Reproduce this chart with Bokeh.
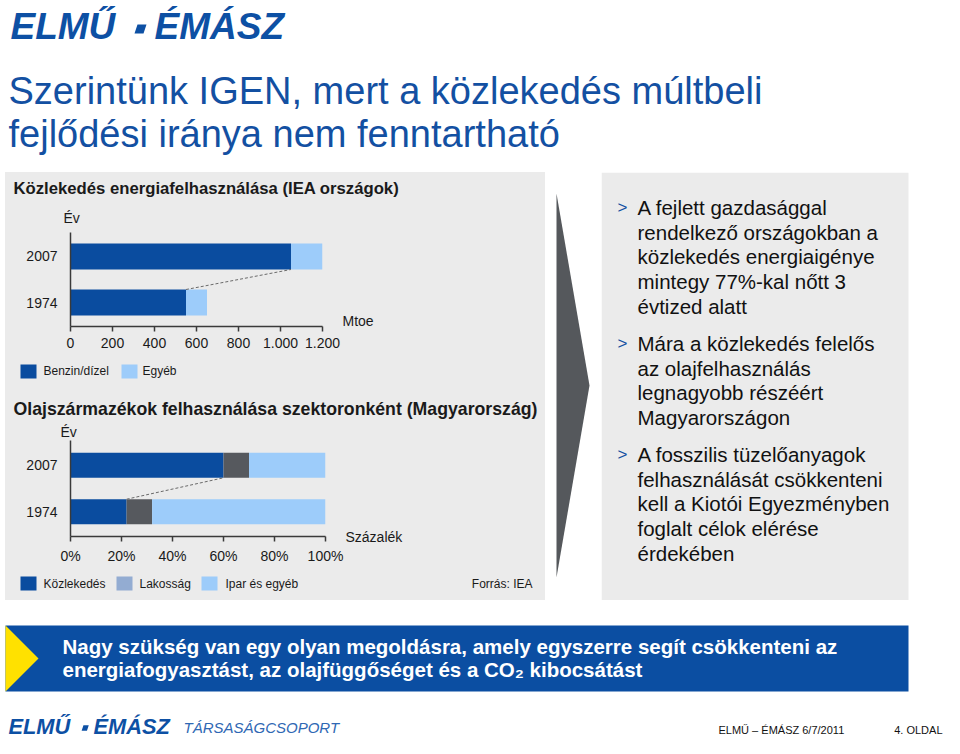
from bokeh.plotting import figure
from bokeh.layouts import column, row
from bokeh.models import Range1d, FactorRange, FixedTicker, ColumnDataSource
from bokeh.core.properties import value
from bokeh.transform import dodge
from bokeh.embed import file_html
from bokeh.resources import INLINE

FONT = "Liberation Sans"
GRAY = "#ebebeb"
LOGO_BLUE = "#0d50a4"
TITLE_BLUE = "#1350a2"
DARK_BLUE = "#0a4c9f"
LIGHT_BLUE = "#9dccfa"
DARK_GRAY = "#56595e"
LEG_GRAY = "#93acd2"
TEXT = "#1a1a1a"
AXIS = "#3a3a3a"

# ---------------- data ----------------
years = ["1974", "2007"]

# Chart 1: Közlekedés energiafelhasználása (IEA országok), Mtoe
energy_series = ["Benzin/dízel", "Egyéb"]
benzin_dizel = [550, 1050]
egyeb = [100, 150]
mtoe_ticks = [0, 200, 400, 600, 800, 1000, 1200]
mtoe_tick_labels = ["0", "200", "400", "600", "800", "1.000", "1.200"]

# Chart 2: Olajszármazékok felhasználása szektoronként (Magyarország), %
oil_series = ["Közlekedés", "Lakosság", "Ipar és egyéb"]
kozlekedes = [22, 60]
lakossag = [10, 10]
ipar_egyeb = [68, 30]
pct_ticks = [0, 20, 40, 60, 80, 100]
pct_tick_labels = ["0%", "20%", "40%", "60%", "80%", "100%"]

title_lines = ["Szerintünk IGEN, mert a közlekedés múltbeli",
               "fejlődési iránya nem fenntartható"]
chart1_title = "Közlekedés energiafelhasználása (IEA országok)"
chart2_title = "Olajszármazékok felhasználása szektoronként (Magyarország)"
bullets = [
    ["A fejlett gazdasággal", "rendelkező országokban a", "közlekedés energiaigénye",
     "mintegy 77%-kal nőtt 3", "évtized alatt"],
    ["Mára a közlekedés felelős", "az olajfelhasználás", "legnagyobb részéért",
     "Magyarországon"],
    ["A fosszilis tüzelőanyagok", "felhasználását csökkenteni",
     "kell a Kiotói Egyezményben", "foglalt célok elérése", "érdekében"],
]
box_lines = ["Nagy szükség van egy olyan megoldásra, amely egyszerre segít csökkenteni az",
             "energiafogyasztást, az olajfüggőséget és a CO₂ kibocsátást"]


# ---------------- helpers ----------------
def canvas(w, h, bg="white"):
    p = figure(width=w, height=h, x_range=Range1d(0, w), y_range=Range1d(h, 0),
               x_axis_type=None, y_axis_type=None, output_backend="svg",
               toolbar_location=None, min_border=0, min_border_left=0,
               min_border_right=0, min_border_top=0, min_border_bottom=0,
               outline_line_color=None, background_fill_color=bg,
               border_fill_color=bg)
    return p


def txt(p, x, y, s, size, color=TEXT, style="normal", align="left",
        baseline="middle", font=FONT):
    p.text(x=[x], y=[y], text=[s], text_font=value(font),
           text_font_size=value(size), text_font_style=value(style),
           text_color=color, text_align=value(align),
           text_baseline=value(baseline))


def swatch(p, x0, x1, y0, y1, color):
    p.quad(left=[x0], right=[x1], top=[y0], bottom=[y1], fill_color=color,
           line_color=None)


def logo(p, x, cy, scale):
    size = "%.1fpx" % (37 * scale)
    txt(p, x, cy, "ELMŰ", size, LOGO_BLUE, "bold italic")
    sx = [x + 127 * scale, x + 136 * scale, x + 133 * scale, x + 124 * scale]
    sy = [cy - 2 * scale, cy - 2 * scale, cy + 7 * scale, cy + 7 * scale]
    p.patch(sx, sy, fill_color=LOGO_BLUE, line_color=None)
    txt(p, x + 144 * scale, cy, "ÉMÁSZ", size, LOGO_BLUE, "bold italic")


def style_axes(p, ticks, labels):
    p.xgrid.visible = False
    p.ygrid.visible = False
    for ax in (p.xaxis, p.yaxis):
        ax.axis_line_color = AXIS
        ax.axis_line_width = 1.5
        ax.minor_tick_line_color = None
        ax.major_label_text_font = FONT
        ax.major_label_text_font_size = "14px"
        ax.major_label_text_color = TEXT
    p.xaxis.ticker = FixedTicker(ticks=ticks)
    p.xaxis.major_label_overrides = dict(zip(ticks, labels))
    p.xaxis.major_tick_in = 0
    p.xaxis.major_tick_out = 5
    p.xaxis.major_tick_line_color = AXIS
    p.xaxis.major_tick_line_width = 1.5
    p.xaxis.major_label_standoff = 6
    p.yaxis.major_tick_line_color = None
    p.yaxis.major_tick_in = 0
    p.yaxis.major_tick_out = 0
    p.yaxis.major_label_standoff = 13


gray_bg = {"background-color": GRAY}

# ---------------- header ----------------
hdr = canvas(944, 172)
logo(hdr, 10, 26, 1.0)
txt(hdr, 8, 90, title_lines[0], "38px", TITLE_BLUE)
txt(hdr, 8, 133, title_lines[1], "38px", TITLE_BLUE)

# ---------------- chart 1 ----------------
t1 = canvas(540, 60, GRAY)
txt(t1, 8, 16, chart1_title, "16.7px", TEXT, "bold")
txt(t1, 58, 45, "Év", "14px")

bh1 = 0.565
c1 = figure(width=337, height=126, x_range=Range1d(0, 1200),
            y_range=FactorRange(factors=years, range_padding=0.02),
            output_backend="svg", toolbar_location=None,
            min_border_left=65, min_border_right=20, min_border_top=0,
            min_border_bottom=32, outline_line_color=None,
            background_fill_color=GRAY, border_fill_color=GRAY)
src1 = ColumnDataSource(dict(year=years, benzin=benzin_dizel, egyeb=egyeb))
c1.hbar_stack(["benzin", "egyeb"], y="year", height=bh1,
              color=[DARK_BLUE, LIGHT_BLUE], line_color=None, source=src1)
con1 = ColumnDataSource(dict(x0=[benzin_dizel[0]], y0=[years[0]],
                             x1=[benzin_dizel[1]], y1=[years[1]]))
c1.segment(x0="x0", x1="x1", y0=dodge("y0", bh1 / 2, range=c1.y_range),
           y1=dodge("y1", -bh1 / 2, range=c1.y_range), source=con1,
           line_color="#6a6a6a", line_width=1, line_dash="3 2")
style_axes(c1, mtoe_ticks, mtoe_tick_labels)

m1 = canvas(203, 126, GRAY)
txt(m1, 0, 88, "Mtoe", "14px")

l1 = canvas(540, 27, GRAY)
leg1_x = [(15, 31, 38), (116, 132, 137)]
for (a, b, tx), name, col in zip(leg1_x, energy_series, [DARK_BLUE, LIGHT_BLUE]):
    swatch(l1, a, b, 6, 20, col)
    txt(l1, tx, 12, name, "12px")

# ---------------- chart 2 ----------------
t2 = canvas(540, 55, GRAY)
txt(t2, 8, 23, chart2_title, "17.7px", TEXT, "bold")
txt(t2, 55, 46, "Év", "14px")

bh2 = 0.54
c2 = figure(width=340, height=126, x_range=Range1d(0, 100),
            y_range=FactorRange(factors=years, range_padding=0.032),
            output_backend="svg", toolbar_location=None,
            min_border_left=65, min_border_right=20, min_border_top=0,
            min_border_bottom=30, outline_line_color=None,
            background_fill_color=GRAY, border_fill_color=GRAY)
src2 = ColumnDataSource(dict(year=years, kozl=kozlekedes, lak=lakossag, ipar=ipar_egyeb))
c2.hbar_stack(["kozl", "lak", "ipar"], y="year", height=bh2,
              color=[DARK_BLUE, DARK_GRAY, LIGHT_BLUE], line_color=None, source=src2)
con2 = ColumnDataSource(dict(x0=[kozlekedes[0]], y0=[years[0]],
                             x1=[kozlekedes[1]], y1=[years[1]]))
c2.segment(x0="x0", x1="x1", y0=dodge("y0", bh2 / 2, range=c2.y_range),
           y1=dodge("y1", -bh2 / 2, range=c2.y_range), source=con2,
           line_color="#6a6a6a", line_width=1, line_dash="3 2")
style_axes(c2, pct_ticks, pct_tick_labels)

m2 = canvas(200, 126, GRAY)
txt(m2, 0, 96, "Százalék", "14px")

l2 = canvas(540, 34, GRAY)
leg2_x = [(15, 31, 38), (111, 127, 134), (196, 212, 220)]
for (a, b, tx), name, col in zip(leg2_x, oil_series, [DARK_BLUE, LEG_GRAY, LIGHT_BLUE]):
    swatch(l2, a, b, 10, 24, col)
    txt(l2, tx, 17, name, "12px")
txt(l2, 527, 17, "Forrás: IEA", "12px", align="right")

# the side-text canvases are wrapped in their own columns so that their
# frames are not aligned with the chart frames
left_col = column(t1, row(c1, column(m1, styles=gray_bg), styles=gray_bg), l1, t2,
                  row(c2, column(m2, styles=gray_bg), styles=gray_bg), l2, styles=gray_bg)

# ---------------- arrow ----------------
pad = canvas(5, 428)
arr = canvas(56, 428)
arr.patch([11, 11, 44], [21, 405, 213], fill_color="#55585c", line_color=None)

# ---------------- right panel ----------------
rp = canvas(343, 428)
rp.quad(left=[0], right=[307], top=[0], bottom=[428], fill_color=GRAY, line_color=None)
para_start = [35, 171, 282]
line_step = 24.7
for y0, lines in zip(para_start, bullets):
    txt(rp, 16, y0, ">", "17px", TITLE_BLUE)
    for i, s in enumerate(lines):
        txt(rp, 36, y0 + i * line_step, s, "20.5px", "#111111")

# ---------------- bottom ----------------
bot = canvas(944, 138)
bot.quad(left=[5], right=[908], top=[25], bottom=[91], fill_color="#0b4ea2", line_color=None)
bot.patch([5, 38, 5], [25, 58, 91], fill_color="#ffe100", line_color=None)
txt(bot, 62, 46, box_lines[0], "20.5px", "white", "bold")
txt(bot, 62, 69, box_lines[1], "20.5px", "white", "bold")
logo(bot, 8, 126, 0.59)
txt(bot, 183, 127, "TÁRSASÁGCSOPORT", "15px", "#2f68b4", "italic")
txt(bot, 718, 129, "ELMŰ – ÉMÁSZ 6/7/2011", "11px", "#111111")
txt(bot, 942, 129, "4. OLDAL", "11px", "#111111", align="right")

layout = column(hdr, row(pad, left_col, arr, rp), bot)

open("out.html", "w").write(file_html(layout, INLINE))
